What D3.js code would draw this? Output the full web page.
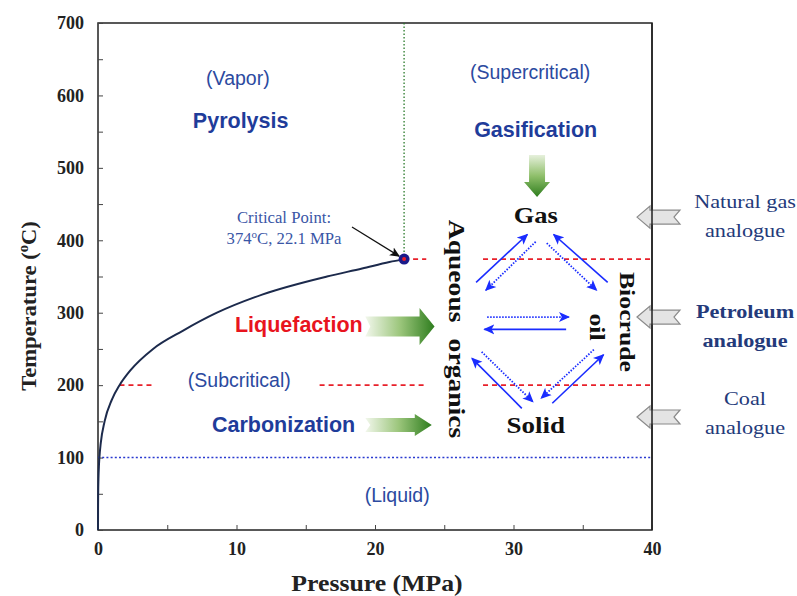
<!DOCTYPE html>
<html><head><meta charset="utf-8">
<script src="https://cdn.jsdelivr.net/npm/d3@7"></script>
<style>body{margin:0;background:#fff}svg{display:block}</style>
</head><body>
<svg id="c" width="797" height="596"></svg>
<script>
// ---- data ----
const satP = [0.0006, 0.0012, 0.0042, 0.0123, 0.0314, 0.0701, 0.1014, 0.1985, 0.476, 1.003, 1.555, 2.32, 3.976, 6.117, 8.588, 11.85, 16.53, 19.07, 21.04, 22.1];
const satT = [0, 10, 30, 50, 70, 90, 100, 120, 150, 180, 200, 220, 250, 275, 300, 325, 350, 361, 370, 374];
const xTicks = [0, 10, 20, 30, 40];
const yTicks = [0, 100, 200, 300, 400, 500, 600, 700];
const critical = {P: 22.1, T: 374};
const boilT = 100;
const red200 = [[1.55, 4.1], [16.0, 23.7], [27.8, 40]];
const red374 = [[22.1, 23.7], [27.8, 40]];
// blue reaction arrows [P0,T0,P1,T1,dotted]
const reactArrows = [
  [27.3, 342, 31.0, 408, 0], [31.6, 398, 28.0, 331, 1],
  [36.8, 342, 32.9, 408, 0], [32.4, 396, 36.0, 331, 1],
  [28.1, 294, 34.0, 294, 1], [33.8, 277, 27.9, 277, 0],
  [30.6, 168, 27.0, 237, 0], [27.7, 246, 31.4, 177, 1],
  [32.8, 175, 36.5, 242, 0], [35.8, 249, 32.0, 182, 1]
];
const regionLabels = [["(Vapor)", 10.1, 614], ["(Supercritical)", 31.2, 622], ["(Subcritical)", 10.2, 198], ["(Liquid)", 21.6, 38]];
const processLabels = [["Pyrolysis", 10.3, 555, "#1f3c9a"], ["Gasification", 31.6, 543, "#1f3c9a"], ["Liquefaction", 14.5, 273, "#e8141e"], ["Carbonization", 13.4, 135, "#1f3c9a"]];
const greenArrows = [[19.3, 24.3, 281, 18.5, 10, 15], [19.3, 24.1, 145, 11, 7, 17]]; // P0,P1,T,headHalf,bodyHalf,headLen
const analogues = [[["Natural gas", "analogue"], 432, false], [["Petroleum", "analogue"], 294, true], [["Coal", "analogue"], 156, false]];

// ---- layout ----
const svg = d3.select("#c");
const x = d3.scaleLinear().domain([0, 40]).range([98, 652]);
const y = d3.scaleLinear().domain([0, 700]).range([530, 23]);
const serif = "'Liberation Serif','Times New Roman',serif";
const sans = "'Liberation Sans',Arial,sans-serif";

function txt(px, py, str, o) {
  const t = svg.append("text")
    .attr("transform", `translate(${px},${py}) rotate(${o.rot || 0}) scale(${o.sx || 1},1)`)
    .attr("text-anchor", o.anchor || "middle").attr("font-family", o.font || serif)
    .attr("font-weight", o.bold ? "bold" : "normal").attr("font-size", o.size).attr("fill", o.fill || "#111");
  if (o.ws) t.attr("word-spacing", o.ws);
  if (str !== null) t.text(str);
  return t;
}

const defs = svg.append("defs");
const gh = defs.append("linearGradient").attr("id", "gh").attr("x1", 0).attr("x2", 1).attr("y1", 0).attr("y2", 0);
gh.append("stop").attr("offset", 0).attr("stop-color", "#f2f7ec");
gh.append("stop").attr("offset", 0.5).attr("stop-color", "#9cc67c");
gh.append("stop").attr("offset", 1).attr("stop-color", "#2e7d1e");
const gv = defs.append("linearGradient").attr("id", "gv").attr("x1", 0).attr("x2", 0).attr("y1", 0).attr("y2", 1);
gv.append("stop").attr("offset", 0).attr("stop-color", "#e6f0dc");
gv.append("stop").attr("offset", 0.5).attr("stop-color", "#8fbf6a");
gv.append("stop").attr("offset", 1).attr("stop-color", "#2e7d1e");
defs.append("marker").attr("id", "bh").attr("viewBox", "0 0 10 10").attr("refX", 9).attr("refY", 5)
  .attr("markerWidth", 11).attr("markerHeight", 11).attr("markerUnits", "userSpaceOnUse").attr("orient", "auto")
  .append("path").attr("d", "M0,0.5 L10,5 L0,9.5 L2.5,5 Z").attr("fill", "#1a2cff");
defs.append("marker").attr("id", "kh").attr("viewBox", "0 0 10 10").attr("refX", 9).attr("refY", 5)
  .attr("markerWidth", 10).attr("markerHeight", 10).attr("markerUnits", "userSpaceOnUse").attr("orient", "auto")
  .append("path").attr("d", "M0,0.5 L10,5 L0,9.5 L2.5,5 Z").attr("fill", "#111");

// frame
svg.append("rect").attr("x", x(0)).attr("y", y(700)).attr("width", x(40) - x(0)).attr("height", y(0) - y(700))
  .attr("fill", "none").attr("stroke", "#222").attr("stroke-width", 1.5);

// axes
const xAxis = d3.axisBottom(x).tickValues(d3.range(0, 41, 5)).tickSize(-5).tickFormat(d => xTicks.includes(d) ? d : "");
const gx = svg.append("g").attr("transform", `translate(0,${y(0)})`).call(xAxis);
gx.select(".domain").remove();
gx.selectAll("line").attr("stroke", "#444");
gx.selectAll("text").attr("font-family", serif).attr("font-weight", "bold").attr("font-size", 18).attr("fill", "#222").attr("dy", "1.2em");
const yAxis = d3.axisLeft(y).tickValues(d3.range(0, 701, 50)).tickSize(-5).tickFormat(d => yTicks.includes(d) ? d : "");
const gy = svg.append("g").attr("transform", `translate(${x(0)},0)`).call(yAxis);
gy.select(".domain").remove();
gy.selectAll("line").attr("stroke", "#444");
gy.selectAll("text").attr("font-family", serif).attr("font-weight", "bold").attr("font-size", 18).attr("fill", "#222").attr("x", -14);

txt(377, 591, "Pressure (MPa)", {size: 23, bold: true, sx: 1.12, fill: "#222"});
const yl = txt(36, 306, null, {size: 21.5, bold: true, sx: 1.05, rot: -90, fill: "#222"});
yl.append("tspan").text("Temperature (");
yl.append("tspan").attr("font-size", 14).attr("dy", -8).text("o");
yl.append("tspan").attr("dy", 8).text("C)");

// reference lines
svg.append("line").attr("x1", x(0)).attr("x2", x(40)).attr("y1", y(boilT)).attr("y2", y(boilT))
  .attr("stroke", "#2a3ad0").attr("stroke-width", 1.4).attr("stroke-dasharray", "2,2.2");
svg.append("line").attr("x1", x(critical.P)).attr("x2", x(critical.P)).attr("y1", y(critical.T)).attr("y2", y(700))
  .attr("stroke", "#2a7a2a").attr("stroke-width", 1.3).attr("stroke-dasharray", "1.5,2");
[[200, red200], [374, red374]].forEach(([t, segs]) => segs.forEach(s => {
  svg.append("line").attr("x1", x(s[0])).attr("x2", x(s[1])).attr("y1", y(t)).attr("y2", y(t))
    .attr("stroke", "#e8202a").attr("stroke-width", 1.6).attr("stroke-dasharray", "5,4");
}));

// saturation curve
const curve = satP.map((p, i) => [p, satT[i]]);
svg.append("path").datum(curve).attr("fill", "none").attr("stroke", "#1c2a4c").attr("stroke-width", 2)
  .attr("d", d3.line().x(d => x(d[0])).y(d => y(d[1])).curve(d3.curveMonotoneX));

// critical point
svg.append("line").attr("x1", 352).attr("y1", 227).attr("x2", x(critical.P) - 5).attr("y2", y(critical.T) - 3)
  .attr("stroke", "#111").attr("stroke-width", 1.3).attr("marker-end", "url(#kh)");
svg.append("circle").attr("cx", x(critical.P)).attr("cy", y(critical.T)).attr("r", 5.5).attr("fill", "#1a1a8a");
svg.append("circle").attr("cx", x(critical.P)).attr("cy", y(critical.T)).attr("r", 2).attr("fill", "#e8202a");
txt(284, 223, "Critical Point:", {size: 16.7, fill: "#3a56a6"});
const cp = txt(284, 244, null, {size: 16.7, fill: "#3a56a6"});
cp.append("tspan").text("374");
cp.append("tspan").attr("font-size", 11).attr("dy", -6).text("o");
cp.append("tspan").attr("dy", 6).text(`C, ${critical.P} MPa`);

// region & process labels
regionLabels.forEach(d => txt(x(d[1]), y(d[2]), d[0], {font: sans, size: 19.5, fill: "#2c4aa0"}));
processLabels.forEach(d => txt(x(d[1]), y(d[2]), d[0], {font: sans, size: 21.5, bold: true, fill: d[3]}));

// green arrows
greenArrows.forEach(([p0, p1, t, hh, bh, hl]) => {
  const x0 = x(p0), x1 = x(p1), yc = y(t);
  svg.append("path").attr("fill", "url(#gh)")
    .attr("d", `M${x0},${yc - bh} L${x1 - hl},${yc - bh} L${x1 - hl},${yc - hh} L${x1},${yc} L${x1 - hl},${yc + hh} L${x1 - hl},${yc + bh} L${x0},${yc + bh} L${x0 + 5},${yc} Z`);
});
{
  const xc = x(31.7), y0 = 155, y1 = 197, bw = 8, hw = 13, hl = 15;
  svg.append("path").attr("fill", "url(#gv)")
    .attr("d", `M${xc - bw},${y0} L${xc + bw},${y0} L${xc + bw},${y1 - hl} L${xc + hw},${y1 - hl} L${xc},${y1} L${xc - hw},${y1 - hl} L${xc - bw},${y1 - hl} Z`);
}

// product labels
txt(x(31.6), 223, "Gas", {size: 23, bold: true, sx: 1.15});
txt(x(31.6), 433, "Solid", {size: 23.5, bold: true, sx: 1.15});
txt(449, 329, "Aqueous organics", {size: 24, bold: true, sx: 1.15, rot: 90, ws: 8});
txt(620, 322, "Biocrude", {size: 22, bold: true, sx: 1.17, rot: 90});
txt(590, 327, "oil", {size: 22, bold: true, sx: 1.17, rot: 90});

// blue reaction arrows
reactArrows.forEach(a => svg.append("line").attr("x1", x(a[0])).attr("y1", y(a[1])).attr("x2", x(a[2])).attr("y2", y(a[3]))
  .attr("stroke", "#1a2cff").attr("stroke-width", a[4] ? 1.8 : 1.6).attr("stroke-dasharray", a[4] ? "1.5,1.5" : null)
  .attr("marker-end", "url(#bh)"));

// analogue arrows & labels
analogues.forEach(([lines, t, bold], k) => {
  const yc = y(t), tip = 637;
  svg.append("path").attr("fill", "#e4e4e4").attr("stroke", "#8a8a8a").attr("stroke-width", 1.2)
    .attr("d", `M${tip},${yc} L${tip + 13},${yc - 11} L${tip + 13},${yc - 7} L${tip + 43},${yc - 7} L${tip + 37},${yc} L${tip + 43},${yc + 7} L${tip + 13},${yc + 7} L${tip + 13},${yc + 11} Z`);
  const base = [208, 318, 405][k];
  lines.forEach((l, i) => txt(745, base + i * 29, l, {size: 19, bold: bold, sx: 1.17, fill: "#243a7a"}));
});
svg.append("line").attr("x1", x(40)).attr("x2", x(40)).attr("y1", y(700)).attr("y2", y(0)).attr("stroke", "#222").attr("stroke-width", 1.5);
</script>
</body></html>
